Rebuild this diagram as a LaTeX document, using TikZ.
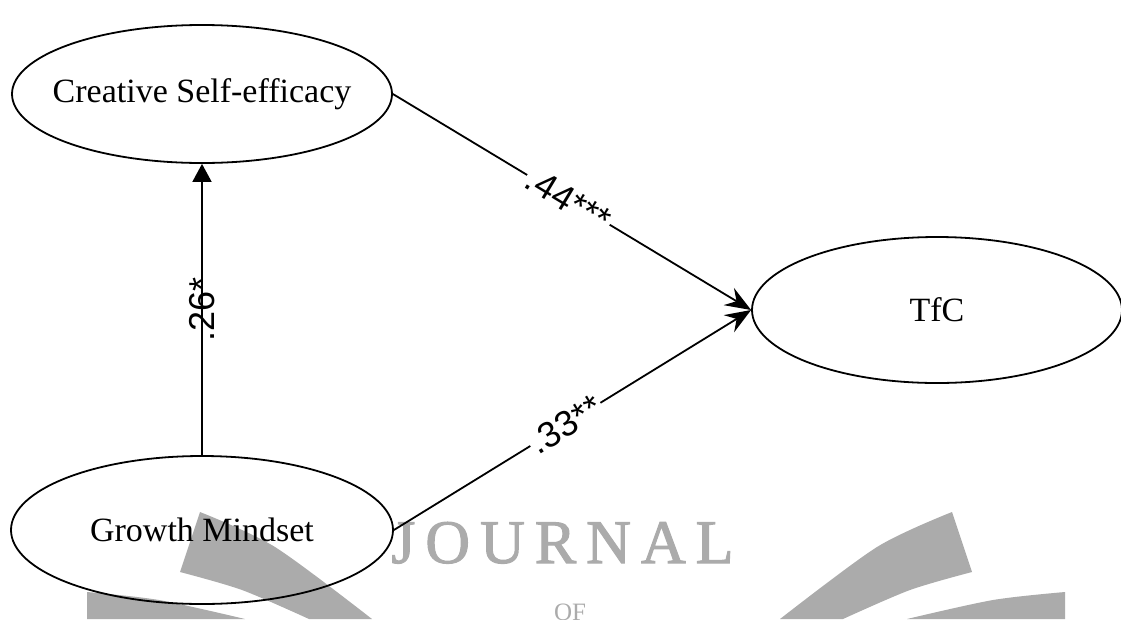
\documentclass[tikz,border=0pt]{standalone}
\usepackage{fontspec}
\setmainfont{Liberation Serif}
\newfontfamily\lblfont{Liberation Sans}
\newfontfamily\wmfont[FakeBold=1.6]{Liberation Serif}
\usetikzlibrary{shapes.geometric,arrows.meta}
\definecolor{wm}{HTML}{ABABAB}
\newcommand{\lattext}[1]{\makebox[0pt]{#1}}
\tikzset{
  latent/.style={draw, ellipse, line width=1.8pt, inner sep=0pt,
    font=\fontsize{34}{40}\selectfont},
  link/.style={line width=1.8pt},
  filltip/.style={-{Triangle[length=18pt,width=19pt]}},
  opentip/.style={-{Stealth[length=26pt,width=20pt,inset=9pt]}},
  coef/.style={font=\lblfont\fontsize{36}{40}\selectfont, sloped, inner sep=2pt},
  wmtext/.style={text=wm, inner sep=0pt},
}
\begin{document}
\begin{tikzpicture}[x=1pt,y=-1pt]
\useasboundingbox (0,0) rectangle (1121,619);
% watermark
\begin{scope}
\clip (0,0) rectangle (1121,619);
\fill[wm] plot[smooth] coordinates {(952,512) (877,547) (780,619)} -- (843,619)
   -- plot[smooth] coordinates {(843,619) (910,590) (972,572)} -- cycle;
\fill[wm] plot[smooth] coordinates {(1065,592) (993,600) (907,619)} -- (1065,619) -- cycle;
\fill[wm] plot[smooth] coordinates {(200,512) (275,547) (372,619)} -- (309,619)
   -- plot[smooth] coordinates {(309,619) (242,590) (180,572)} -- cycle;
\fill[wm] plot[smooth] coordinates {(87,592) (159,600) (245,619)} -- (87,619) -- cycle;
\node[wmtext, anchor=base west, font=\wmfont\fontsize{62}{62}\selectfont] (journal) at (391,563)
  {J\kern10pt O\kern10pt U\kern10pt R\kern10pt N\kern10pt A\kern10pt L};
\node[wmtext, anchor=base, font=\fontsize{25}{25}\selectfont] (of) at (570,620) {OF};
\end{scope}
% nodes
\node[latent, minimum width=380pt, minimum height=138pt] (cse) at (202,94) {\lattext{Creative Self-efficacy}};
\node[latent, minimum width=382pt, minimum height=148pt] (gm) at (202,530) {\lattext{Growth Mindset}};
\node[latent, minimum width=370pt, minimum height=146pt] (tfc) at (937,310) {\lattext{TfC}};
% paths
\draw[link, filltip] (gm.north) -- node[coef] (l1) {.26*} (cse.south);
\draw[link, opentip] (cse.east) -- node[coef, fill=white, pos=0.49] (l2) {.44***} (tfc.west);
\draw[link, opentip] (gm.east) -- node[coef, fill=white, pos=0.48] (l3) {.33**} (tfc.west);
\end{tikzpicture}
\end{document}
